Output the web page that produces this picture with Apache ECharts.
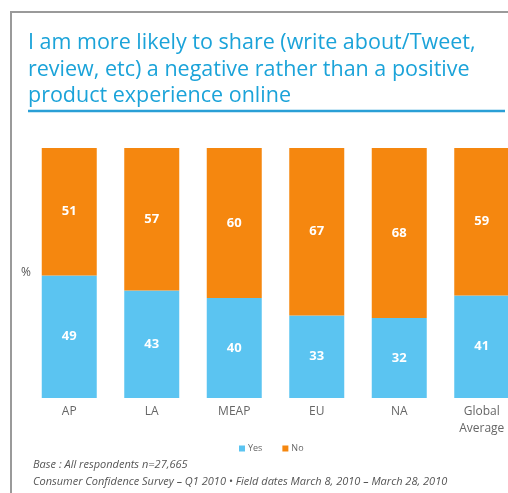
<!DOCTYPE html>
<html>
<head>
<meta charset="utf-8">
<script src="https://cdn.jsdelivr.net/npm/echarts@6/dist/echarts.min.js"></script>
<style>html,body{margin:0;padding:0;background:#fff;overflow:hidden;}#c{width:523px;height:493px;}</style>
</head>
<body>
<div id="c"></div>
<script>
const categories = ['AP', 'LA', 'MEAP', 'EU', 'NA', 'Global\nAverage'];
const yesValues = [49, 43, 40, 33, 32, 41];
const noValues = [51, 57, 60, 67, 68, 59];
const titleText = 'I am more likely to share (write about/Tweet,\nreview, etc) a negative rather than a positive\nproduct experience online';
const footnote1 = 'Base : All respondents n=27,665';
const footnote2 = 'Consumer Confidence Survey \u2013 Q1 2010 \u2022 Field dates March 8, 2010 \u2013 March 28, 2010';

const chart = echarts.init(document.getElementById('c'), null, {renderer: 'canvas'});
const font = '"Open Sans", "Noto Sans", sans-serif';
const label = {show: true, position: 'inside', color: '#fff', fontWeight: 'bold', fontSize: 13, fontFamily: font};
chart.setOption({
  animation: false,
  backgroundColor: '#fff',
  title: {
    text: titleText, left: 28, top: 30, padding: 0,
    textStyle: {color: '#1ba3d9', fontSize: 21.5, fontWeight: 'normal', lineHeight: 26.5, fontFamily: font}
  },
  legend: {
    data: ['Yes', 'No'], left: 234, top: 439, itemWidth: 6, itemHeight: 6, itemGap: 20,
    icon: 'rect',
    textStyle: {fontSize: 9, color: '#666', fontFamily: font, padding: [0, 0, 0, -2]}
  },
  grid: {left: 28, top: 148, width: 495, height: 250, containLabel: false},
  xAxis: {
    type: 'category', data: categories,
    axisLine: {show: false}, axisTick: {show: false},
    axisLabel: {color: '#666', fontSize: 12, margin: 5, lineHeight: 17, fontFamily: font}
  },
  yAxis: {
    type: 'value', min: 0, max: 100, interval: 20,
    name: '%', nameLocation: 'middle', nameRotate: 0, nameGap: -3,
    nameTextStyle: {color: '#555', fontSize: 12, fontFamily: font},
    axisLine: {show: false}, axisTick: {show: false}, axisLabel: {show: false}, splitLine: {show: false}
  },
  series: [
    {name: 'Yes', type: 'bar', stack: 't', data: yesValues, barWidth: 55, itemStyle: {color: '#5bc4f1'}, label: label},
    {name: 'No', type: 'bar', stack: 't', data: noValues, barWidth: 55, itemStyle: {color: '#f5870f'}, label: label}
  ],
  graphic: [
    {type: 'polyline', shape: {points: [[11, 493], [11, 12], [523, 12]]}, style: {stroke: '#9a9a9a', lineWidth: 2, fill: null}},
    {type: 'line', shape: {x1: 28, y1: 111, x2: 505, y2: 111}, style: {stroke: '#2a9fd6', lineWidth: 2.5}},
    {type: 'text', left: 33, top: 459, style: {text: footnote1, fill: '#555', fontSize: 11, fontStyle: 'italic', fontFamily: font}},
    {type: 'text', left: 33, top: 476, style: {text: footnote2, fill: '#555', fontSize: 11, fontStyle: 'italic', fontFamily: font}}
  ]
});
</script>
</body>
</html>
